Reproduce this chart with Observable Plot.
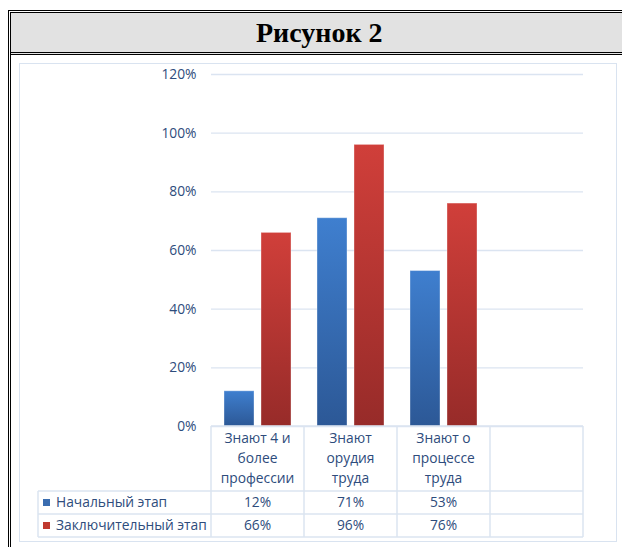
<!DOCTYPE html>
<html>
<head>
<meta charset="utf-8">
<script src="https://cdn.jsdelivr.net/npm/d3@7"></script>
<script src="https://cdn.jsdelivr.net/npm/@observablehq/plot@0.6"></script>
<style>
  html, body { margin: 0; padding: 0; background: #fff; overflow: hidden; }
  body { width: 622px; height: 547px; position: relative; }
  #frame { position: absolute; left: 8px; top: 10px; width: 614px; height: 537px;
           border-left: 3px double #000; border-top: 3px double #000; box-sizing: border-box; }
  #header { position: absolute; left: 0; top: 0; width: 100%; height: 42px; background: #e2e2e2;
            border-bottom: 3px double #000; box-sizing: border-box;
            font-family: "Liberation Serif", serif; font-weight: bold; font-size: 28px; color: #000;
            text-align: left; line-height: 39px; padding-left: 245px; }
  #chartbox { position: absolute; left: 19px; top: 63px; width: 598px; height: 479px;
              border: 1px solid #d9e3f0; box-sizing: border-box; }
  #chart { position: absolute; left: 20px; top: 64px; }
</style>
</head>
<body>
<div id="frame"><div id="header">Рисунок 2</div></div>
<div id="chartbox"></div>
<div id="chart"></div>
<script>
// ---- data ----
const categories = ["Знают 4 и\nболее\nпрофессии", "Знают\nорудия\nтруда", "Знают о\nпроцессе\nтруда"];
const seriesNames = ["Начальный этап", "Заключительный этап"];
const initialValues = [0.12, 0.71, 0.53];
const finalValues = [0.66, 0.96, 0.76];
const yTicks = [0, 0.2, 0.4, 0.6, 0.8, 1.0, 1.2];
const seriesColors = ["#3a6db0", "#c0392f"];

const fmt = d3.format(".0%");
const rowsInitial = categories.map((c, i) => ({cat: c, series: seriesNames[0], value: initialValues[i]}));
const rowsFinal = categories.map((c, i) => ({cat: c, series: seriesNames[1], value: finalValues[i]}));

const textColor = "#2e4c7c";
const lineColor = "#dbe4f1";
const fontSize = 13.8;

const chart = Plot.plot({
  width: 596,
  height: 477,
  marginLeft: 191,
  marginRight: 33,
  marginTop: 10,
  marginBottom: 115,
  style: {fontFamily: "'Open Sans', sans-serif", fontSize: fontSize + "px", color: textColor, background: "transparent", overflow: "visible"},
  x: {domain: [...categories, ""], padding: 0, axis: null},
  y: {domain: [0, 1.2], label: null},
  marks: [
    Plot.gridY(yTicks, {stroke: lineColor, strokeOpacity: 1, strokeWidth: 1.3}),
    Plot.axisY(yTicks, {tickFormat: fmt, tickSize: 0, tickPadding: 15, label: null, fill: textColor, fontSize}),
    Plot.barY(rowsInitial, {x: "cat", y: "value", fill: "url(#gradBlue)", insetLeft: 13, insetRight: 50,
      stroke: "#ffffff", strokeOpacity: 0.35, strokeWidth: 1}),
    Plot.barY(rowsFinal, {x: "cat", y: "value", fill: "url(#gradRed)", insetLeft: 50, insetRight: 13,
      stroke: "#ffffff", strokeOpacity: 0.35, strokeWidth: 1})
  ]
});
document.getElementById("chart").appendChild(chart);

// gradients
const svg = d3.select(chart);
const defs = svg.insert("defs", ":first-child");
function grad(id, top, bottom) {
  const g = defs.append("linearGradient").attr("id", id).attr("x1", 0).attr("y1", 0).attr("x2", 0).attr("y2", 1);
  g.append("stop").attr("offset", "0%").attr("stop-color", top);
  g.append("stop").attr("offset", "100%").attr("stop-color", bottom);
}
grad("gradBlue", "#3f7fcf", "#2c5896");
grad("gradRed", "#d03f3a", "#972b29");

// ---- data table under the plot, aligned with the x band scale ----
const xs = chart.scale("x");
const domain = xs.domain;
const step = xs.step ?? xs.bandwidth;
const x0 = xs.range[0];
const xEnd = x0 + step * domain.length;
const yTop = 477 - 115;      // 0% baseline
const yHead = yTop + 65;
const yRow1 = yHead + 23;
const yRow2 = yRow1 + 23;
const tableLeft = 18;

const t = svg.append("g").attr("font-family", "'Open Sans', sans-serif").attr("font-size", fontSize).attr("fill", textColor);
const lines = t.append("g").attr("stroke", lineColor).attr("stroke-width", 1.5);
// horizontal
lines.append("line").attr("x1", x0).attr("x2", xEnd).attr("y1", yTop).attr("y2", yTop);
[yHead, yRow1, yRow2].forEach(y => lines.append("line").attr("x1", tableLeft).attr("x2", xEnd).attr("y1", y).attr("y2", y));
// vertical
domain.forEach((d, i) => lines.append("line").attr("x1", x0 + i * step).attr("x2", x0 + i * step).attr("y1", yTop).attr("y2", yRow2));
lines.append("line").attr("x1", xEnd).attr("x2", xEnd).attr("y1", yTop).attr("y2", yRow2);
lines.append("line").attr("x1", tableLeft).attr("x2", tableLeft).attr("y1", yHead).attr("y2", yRow2);

// header labels
categories.forEach((c, i) => {
  const cx = x0 + i * step + step / 2;
  const txt = t.append("text").attr("text-anchor", "middle");
  c.split("\n").forEach((ln, j) => {
    txt.append("tspan").attr("x", cx).attr("y", yTop + 12 + j * 20).attr("dy", "0.35em").text(ln);
  });
});
// value rows
const rows = [initialValues, finalValues];
rows.forEach((vals, r) => {
  const cy = (r === 0 ? yHead : yRow1) + 11.5;
  vals.forEach((v, i) => {
    t.append("text").attr("text-anchor", "middle").attr("x", x0 + i * step + step / 2).attr("y", cy).attr("dy", "0.35em").text(fmt(v));
  });
  t.append("rect").attr("x", tableLeft + 5).attr("y", cy - 3.5).attr("width", 7).attr("height", 7).attr("fill", seriesColors[r]);
  t.append("text").attr("text-anchor", "start").attr("x", tableLeft + 18).attr("y", cy).attr("dy", "0.35em").text(seriesNames[r]);
});
</script>
</body>
</html>
